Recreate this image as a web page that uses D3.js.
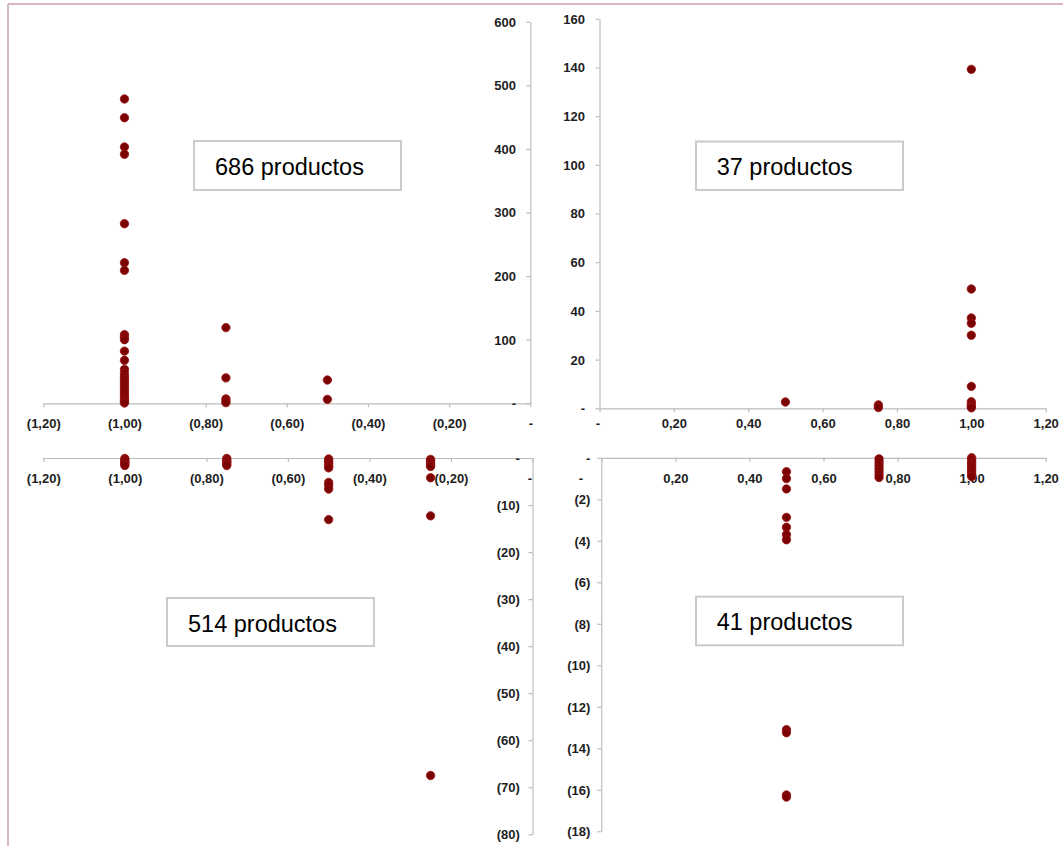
<!DOCTYPE html>
<html>
<head>
<meta charset="utf-8">
<script src="https://cdn.jsdelivr.net/npm/d3@7"></script>
<style>
  html, body { margin: 0; padding: 0; background: #ffffff; }
  svg { display: block; }
  .tick text { font-family: "Liberation Sans", Arial, sans-serif; font-weight: bold; font-size: 13px; fill: #1e1e1e; }
  .note { font-family: "Liberation Sans", Arial, sans-serif; font-size: 23.5px; fill: #000; }
</style>
</head>
<body>
<svg id="chart" width="1063" height="846"></svg>
<script>
// ---------------- DATA ----------------
// tick values
const xTicksNeg = [-1.2, -1.0, -0.8, -0.6, -0.4, -0.2, 0];
const xTicksPos = [0, 0.2, 0.4, 0.6, 0.8, 1.0, 1.2];
const yTicksQ1 = [0, 100, 200, 300, 400, 500, 600];
const yTicksQ2 = [0, 20, 40, 60, 80, 100, 120, 140, 160];
const yTicksQ3 = [-80, -70, -60, -50, -40, -30, -20, -10, 0];
const yTicksQ4 = [-18, -16, -14, -12, -10, -8, -6, -4, -2, 0];

// annotation labels
const notes = ["686 productos", "37 productos", "514 productos", "41 productos"];

// Quadrant 1 (top-left): x columns and y values per column
const q1Cols = [-1.0, -0.75, -0.5];
const q1Vals = [
  [478.5, 449, 403, 391.5, 282.4, 221, 209, 108, 104, 100, 82, 67.6, 53.4, 47, 42, 38, 34, 30, 26, 22, 18, 14, 10, 7, 4, 2, 0.5],
  [119, 40, 7, 4, 1],
  [36.6, 6.2]
];
// Quadrant 2 (top-right)
const q2Cols = [0.5, 0.75, 1.0];
const q2Vals = [
  [2.6],
  [1.4, 0.3],
  [139.2, 49, 37.1, 34.9, 30, 9, 2.7, 1.7, 0.8, 0.2]
];
// Quadrant 3 (bottom-left)
const q3Cols = [-1.0, -0.75, -0.5, -0.25];
const q3Vals = [
  [-0.1, -0.4, -0.7, -1.0, -1.3, -1.6],
  [-0.1, -0.4, -0.7, -1.0, -1.3, -1.6],
  [-0.2, -0.6, -1.0, -1.4, -1.8, -2.1, -5.2, -5.8, -6.6, -13.1],
  [-0.3, -0.7, -1.1, -1.5, -1.8, -4.2, -12.3, -67.5]
];
// Quadrant 4 (bottom-right)
const q4Cols = [0.5, 0.75, 1.0];
const q4Vals = [
  [-0.67, -1.0, -1.5, -2.87, -3.35, -3.7, -3.95, -13.1, -13.25, -16.25, -16.35],
  [-0.05, -0.2, -0.35, -0.5, -0.65, -0.8, -0.95],
  [0, -0.1, -0.2, -0.3, -0.4, -0.5, -0.6, -0.7, -0.8, -0.9]
];

// ---------------- FORMATTERS ----------------
const fmtX = v => {
  if (Math.abs(v) < 1e-9) return "-";
  const s = Math.abs(v).toFixed(2).replace(".", ",");
  return v < 0 ? "(" + s + ")" : s;
};
const fmtY = v => {
  if (Math.abs(v) < 1e-9) return "-";
  return v < 0 ? "(" + Math.abs(v) + ")" : String(v);
};

// ---------------- LAYOUT ----------------
const panels = [
  { cols: q1Cols, vals: q1Vals, xDom: [-1.2, 0], xR: [43.3, 530.3], yDom: [0, 600], yR: [403.3, 21.7],
    xTicks: xTicksNeg, yTicks: yTicksQ1, xLab: 20.5, yLab: 14.3, zeroDx: 0,
    box: [194, 141, 207, 49], text: [215, 174.5], note: notes[0] },
  { cols: q2Cols, vals: q2Vals, xDom: [0, 1.2], xR: [599.5, 1045.7], yDom: [0, 160], yR: [408.3, 18.7],
    xTicks: xTicksPos, yTicks: yTicksQ2, xLab: 15.3, yLab: 14.5, zeroDx: -2,
    box: [696, 141.5, 207, 48.5], text: [716.7, 175], note: notes[1] },
  { cols: q3Cols, vals: q3Vals, xDom: [-1.2, 0], xR: [43.3, 532.5], yDom: [-80, 0], yR: [834.3, 458],
    xTicks: xTicksNeg, yTicks: yTicksQ3, xLab: 20, yLab: 12.7, zeroDx: -3,
    box: [167, 598, 207, 48], text: [188, 631.5], note: notes[2] },
  { cols: q4Cols, vals: q4Vals, xDom: [0, 1.2], xR: [601.3, 1045.7], yDom: [-18, 0], yR: [831.3, 457.8],
    xTicks: xTicksPos, yTicks: yTicksQ4, xLab: 21, yLab: 11, zeroDx: -21,
    box: [696, 596.7, 207, 48.6], text: [716.7, 629.5], note: notes[3] }
];

const svg = d3.select("#chart");

// outer frame (top and left edges visible)
svg.append("line").attr("x1", 8).attr("y1", 4).attr("x2", 1063).attr("y2", 4)
  .attr("stroke", "#d8b8bc").attr("stroke-width", 2);
svg.append("line").attr("x1", 8).attr("y1", 4).attr("x2", 8).attr("y2", 846)
  .attr("stroke", "#d8b8bc").attr("stroke-width", 2);

panels.forEach(p => {
  const x = d3.scaleLinear().domain(p.xDom).range(p.xR);
  const y = d3.scaleLinear().domain(p.yDom).range(p.yR);
  const g = svg.append("g");

  // x axis
  const xa = g.append("g").attr("transform", `translate(0,${y(0)})`)
    .call(d3.axisBottom(x).tickValues(p.xTicks).tickFormat(fmtX).tickSizeInner(4).tickSizeOuter(0));
  xa.selectAll("text").attr("y", p.xLab).attr("dy", "0.35em")
    .attr("dx", d => Math.abs(d) < 1e-9 ? p.zeroDx : 0);

  // y axis
  const ya = g.append("g").attr("transform", `translate(${x(0)},0)`)
    .call(d3.axisLeft(y).tickValues(p.yTicks).tickFormat(fmtY).tickSizeInner(4).tickSizeOuter(0));
  ya.selectAll("text").attr("x", -p.yLab).attr("dy", "0.34em");

  g.selectAll(".domain, .tick line").attr("stroke", "#bdbdbd").attr("stroke-width", 1.2);

  // points
  const pts = [];
  p.cols.forEach((c, i) => p.vals[i].forEach(v => pts.push([c, v])));
  g.append("g").selectAll("circle").data(pts).join("circle")
    .attr("cx", d => x(d[0])).attr("cy", d => y(d[1])).attr("r", 4.2)
    .attr("fill", "#7c0202").attr("stroke", "#981414").attr("stroke-width", 0.8);

  // annotation box
  g.append("rect").attr("x", p.box[0]).attr("y", p.box[1]).attr("width", p.box[2]).attr("height", p.box[3])
    .attr("fill", "#ffffff").attr("stroke", "#cbcbcb").attr("stroke-width", 2);
  g.append("text").attr("class", "note").attr("x", p.text[0]).attr("y", p.text[1]).text(p.note);
});
</script>
</body>
</html>
